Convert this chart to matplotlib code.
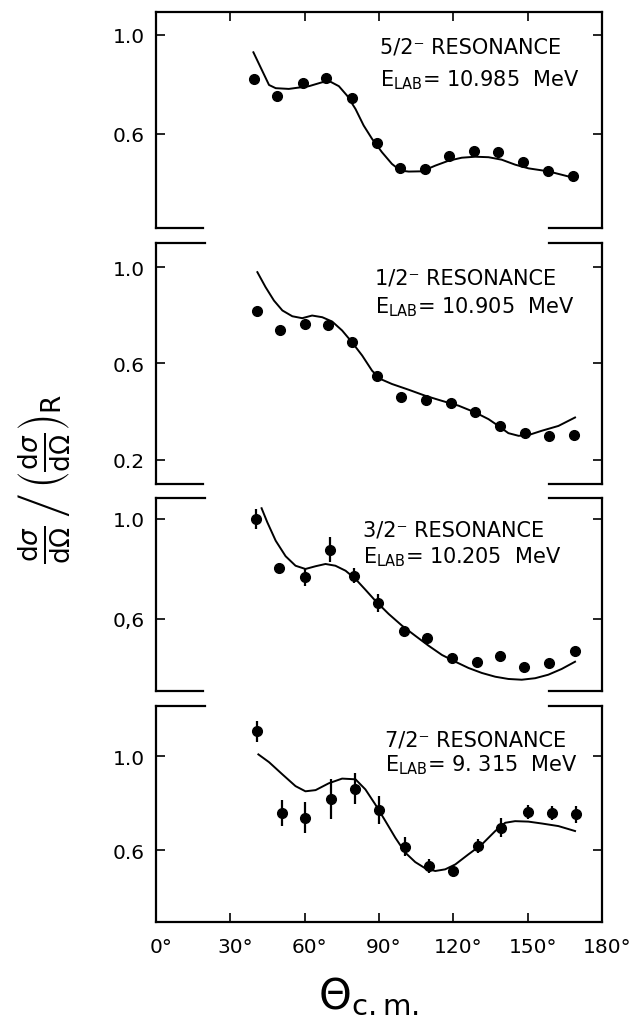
import matplotlib
matplotlib.use("Agg")
import matplotlib.pyplot as plt
import matplotlib.transforms as mtransforms

# measured c.m. angles (deg) and normalized cross sections, one block per resonance
theta_52 = [39.5, 48.9, 59.3, 68.8, 78.9, 89.3, 98.3, 108.5, 118.2, 128.5, 138.2, 147.9, 158.2, 168.4]
sigma_52 = [0.822, 0.752, 0.806, 0.828, 0.747, 0.564, 0.461, 0.459, 0.512, 0.531, 0.526, 0.488, 0.452, 0.430]
fit_x_52 = [39.3, 45.6, 48.3, 53.6, 61.7, 67.1, 70.4, 73.8, 77.1, 80.5, 83.8, 87.2, 91.2, 95.2,
            98.6, 102.0, 107.3, 112.7, 118.1, 123.4, 128.8, 134.2, 139.5, 144.9, 150.3, 158.3, 167.7]
fit_y_52 = [0.930, 0.798, 0.785, 0.782, 0.793, 0.809, 0.811, 0.793, 0.755, 0.701, 0.634, 0.580, 0.526, 0.479,
            0.452, 0.448, 0.449, 0.472, 0.492, 0.504, 0.508, 0.506, 0.496, 0.476, 0.461, 0.449, 0.425]

theta_12 = [40.6, 49.9, 60.0, 69.3, 78.9, 89.3, 98.9, 109.1, 119.0, 128.8, 138.9, 149.0, 158.5, 168.5]
sigma_12 = [0.818, 0.741, 0.764, 0.760, 0.688, 0.547, 0.462, 0.450, 0.436, 0.397, 0.341, 0.310, 0.300, 0.303]
fit_x_12 = [40.9, 44.2, 47.6, 51.0, 55.0, 59.0, 63.0, 67.1, 71.1, 75.1, 79.1, 83.2, 87.2, 90.5,
            95.2, 102.0, 108.7, 115.4, 122.1, 128.8, 134.2, 138.2, 142.2, 146.3, 150.3, 155.7, 162.4, 169.1]
fit_y_12 = [0.979, 0.917, 0.861, 0.820, 0.796, 0.788, 0.799, 0.792, 0.774, 0.737, 0.688, 0.633, 0.570, 0.536,
            0.515, 0.491, 0.466, 0.445, 0.425, 0.397, 0.369, 0.341, 0.311, 0.300, 0.303, 0.321, 0.341, 0.376]

theta_32 = [40.5, 49.6, 60.1, 70.4, 79.8, 89.6, 99.9, 109.5, 119.5, 129.6, 139.0, 148.5, 158.6, 168.9]
sigma_32 = [1.000, 0.803, 0.767, 0.876, 0.773, 0.663, 0.552, 0.523, 0.443, 0.427, 0.451, 0.409, 0.423, 0.473]
err_32 = [0.040, 0.020, 0.035, 0.050, 0.030, 0.035, 0.015, 0.015, 0.015, 0.015, 0.020, 0.012, 0.012, 0.012]
fit_x_32 = [42.6, 44.9, 48.3, 52.3, 56.3, 60.3, 64.4, 68.4, 72.4, 76.5, 80.5, 84.5, 88.5, 93.9,
            99.3, 104.6, 110.0, 115.4, 120.8, 126.1, 131.5, 136.9, 142.2, 147.6, 153.0, 158.3, 163.7, 169.1]
fit_y_32 = [1.043, 0.987, 0.913, 0.851, 0.813, 0.800, 0.811, 0.820, 0.813, 0.793, 0.760, 0.717, 0.673, 0.620,
            0.573, 0.533, 0.493, 0.456, 0.429, 0.404, 0.384, 0.369, 0.360, 0.357, 0.363, 0.377, 0.400, 0.429]

theta_72 = [40.6, 50.7, 60.1, 70.5, 80.5, 89.9, 100.3, 110.0, 119.7, 129.8, 139.3, 150.0, 159.7, 169.5]
sigma_72 = [1.106, 0.756, 0.738, 0.816, 0.861, 0.770, 0.614, 0.532, 0.513, 0.617, 0.695, 0.762, 0.756, 0.752]
err_72 = [0.045, 0.055, 0.065, 0.085, 0.067, 0.060, 0.040, 0.030, 0.0, 0.030, 0.040, 0.030, 0.030, 0.035]
fit_x_72 = [41.3, 45.6, 51.0, 56.3, 60.3, 64.4, 69.7, 75.1, 80.5, 84.5, 88.5, 92.6, 96.6, 100.6,
            104.6, 108.7, 112.7, 116.7, 120.8, 126.1, 131.5, 136.9, 140.9, 144.9, 150.3, 155.7, 162.4, 169.1]
fit_y_72 = [1.007, 0.974, 0.922, 0.872, 0.850, 0.855, 0.884, 0.904, 0.901, 0.858, 0.794, 0.723, 0.652, 0.589,
            0.549, 0.522, 0.511, 0.518, 0.539, 0.582, 0.624, 0.681, 0.716, 0.723, 0.721, 0.713, 0.702, 0.681]

x_ticks = [0, 30, 60, 90, 120, 150, 180]
x_ticklabels = ["0°", "30°", "60°", "90°", "120°", "150°", "180°"]

panels = [
    # (theta, sigma, err, fit x, fit y, ylim, yticks, yticklabels, spin, energy)
    (theta_52, sigma_52, None, fit_x_52, fit_y_52, (0.22, 1.093), [0.6, 1.0], ["0.6", "1.0"], "5/2⁻", "10.985"),
    (theta_12, sigma_12, None, fit_x_12, fit_y_12, (0.10, 1.10), [0.2, 0.6, 1.0], ["0.2", "0.6", "1.0"], "1/2⁻", "10.905"),
    (theta_32, sigma_32, err_32, fit_x_32, fit_y_32, (0.312, 1.084), [0.6, 1.0], ["0,6", "1.0"], "3/2⁻", "10.205"),
    (theta_72, sigma_72, err_72, fit_x_72, fit_y_72, (0.294, 1.213), [0.6, 1.0], ["0.6", "1.0"], "7/2⁻", "9. 315"),
]

# axes boxes in figure fraction: left, bottom, width, height
boxes = [
    [0.2457, 0.7755, 0.7024, 0.2118],
    [0.2457, 0.5245, 0.7024, 0.2363],
    [0.2457, 0.3216, 0.7024, 0.1892],
    [0.2457, 0.0951, 0.7024, 0.2118],
]
label_pos = [(0.502, 0.838, 0.690), (0.491, 0.855, 0.739), (0.464, 0.839, 0.700), (0.513, 0.847, 0.731)]

plt.rcParams['font.family'] = ['DejaVu Sans']
plt.rcParams['mathtext.fontset'] = 'dejavusans'

fig = plt.figure(figsize=(6.35, 10.2), dpi=100)
lw_frame = 1.6
tick_fs = 14.5
note_fs = 15

for i, (th, sg, er, fx, fy, ylim, yt, ytl, spin, energy) in enumerate(panels):
    ax = fig.add_axes(boxes[i])
    ax.set_xlim(0, 180)
    ax.set_ylim(*ylim)

    # theory curve and data
    ax.plot(fx, fy, color='black', lw=1.4, solid_joinstyle='round')
    if er is None:
        ax.plot(th, sg, 'o', color='black', ms=7)
    else:
        ax.errorbar(th, sg, yerr=er, fmt='o', color='black', ms=7, elinewidth=1.6, capsize=0)

    for s in ax.spines.values():
        s.set_linewidth(lw_frame)

    # broken frame between stacked panels: only short corner pieces
    if i > 0:
        ax.spines['top'].set_visible(False)
        ax.plot([0, 0.11], [1, 1], transform=ax.transAxes, clip_on=False, color='black', lw=lw_frame,
                solid_capstyle='projecting')
        ax.plot([0.88, 1], [1, 1], transform=ax.transAxes, clip_on=False, color='black', lw=lw_frame,
                solid_capstyle='projecting')
    if i < 3:
        ax.spines['bottom'].set_visible(False)
        ax.plot([0, 0.105], [0, 0], transform=ax.transAxes, clip_on=False, color='black', lw=lw_frame,
                solid_capstyle='projecting')
        ax.plot([0.88, 1], [0, 0], transform=ax.transAxes, clip_on=False, color='black', lw=lw_frame,
                solid_capstyle='projecting')

    ax.set_yticks(yt)
    ax.set_yticklabels(ytl)
    ax.tick_params(axis='y', direction='in', left=True, right=True, length=6.5, width=1.2,
                   labelsize=tick_fs, pad=8)

    ax.set_xticks(x_ticks)
    if i == 0:
        ax.tick_params(axis='x', direction='in', top=True, bottom=False, labelbottom=False,
                       length=6.5, width=1.2)
    elif i == 3:
        ax.set_xticklabels(x_ticklabels)
        ax.tick_params(axis='x', direction='in', top=False, bottom=True, length=6.5, width=1.2,
                       labelsize=tick_fs, pad=11)
        shift = mtransforms.ScaledTranslation(0.05, 0, fig.dpi_scale_trans)
        for lab in ax.get_xticklabels():
            lab.set_transform(lab.get_transform() + shift)
        ax.set_xlabel(r'$\Theta_{\mathrm{c.m.}}$', fontsize=30)
        ax.xaxis.set_label_coords(0.475, -0.245)
    else:
        ax.tick_params(axis='x', top=False, bottom=False, labelbottom=False)

    lx, ly1, ly2 = label_pos[i]
    ax.text(lx, ly1, spin + " RESONANCE", transform=ax.transAxes, fontsize=note_fs, va='center', ha='left')
    ax.text(lx, ly2, r'$\mathregular{E_{LAB}}$= ' + energy + "  MeV", transform=ax.transAxes,
            fontsize=note_fs, va='center', ha='left')

fig.text(0.071, 0.531,
         r'$\left.\frac{\mathrm{d}\sigma}{\mathrm{d}\Omega}\,\right/\,'
         r'\left(\frac{\mathrm{d}\sigma}{\mathrm{d}\Omega}\right)_{\mathrm{R}}$',
         rotation=90, fontsize=27, ha='center', va='center')

fig.savefig("out.png", dpi=100)
